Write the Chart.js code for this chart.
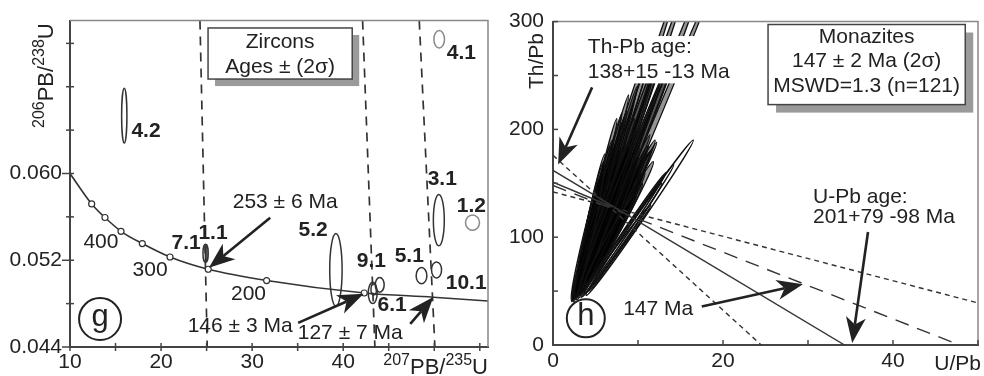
<!DOCTYPE html>
<html>
<head>
<meta charset="utf-8">
<script src="https://cdn.jsdelivr.net/npm/chart.js@4.4.0/dist/chart.umd.min.js"></script>
<style>
html, body { margin: 0; padding: 0; background: #fff; }
#wrap { position: relative; width: 984px; height: 376px; }
.panel { position: absolute; top: 0; width: 492px; height: 376px; }
</style>
</head>
<body>
<div id="wrap">
  <div class="panel" style="left:0"><canvas id="zircons"></canvas></div>
  <div class="panel" style="left:492px"><canvas id="monazites"></canvas></div>
</div>
<script>
const FONT = '"Liberation Sans", Arial, Helvetica, sans-serif';
const INK = '#222';
const TXT = 21;

// ---------- panel g : zircons ----------
const gXTicks = [10, 15, 20, 25, 30, 35, 40, 45, 50, 55];
const gXLabels = ['10', '', '20', '', '30', '', '40', '', '', ''];
const gYTicks = [0.044, 0.048, 0.052, 0.056, 0.060, 0.064, 0.068, 0.072];
const gYLabels = ['0.044', '', '0.052', '', '0.060', '', '', ''];

// concordia curve, with age ticks
const curveX = [10, 12.38, 13.84, 15.60, 17.94, 20.98, 25.18, 31.59, 42.31, 49.88, 55.9];
const curveY = [0.0600, 0.05719, 0.05594, 0.05467, 0.05354, 0.05230, 0.05117, 0.05013, 0.04898, 0.04859, 0.04824];
const curveAgeTick = [0, 1, 1, 1, 1, 1, 1, 1, 1, 0, 0];
const curveAgeText = ['400', '300', '200'];
const curveAgeX = [13.4, 18.8, 29.6];
const curveAgeY = [0.05369, 0.05111, 0.04889];

// dashed age lines (top x at upper edge, bottom x at lower edge)
const tieTopX = [24.27, 42.13, 48.35];
const tieBotX = [25.07, 43.48, 50.07];

// zircon spots: centre and 2 sigma half sizes
const zrcSpot = ['4.2', '4.1', '7.1', '1.1', '5.2', '9.1', '6.1', '6.1', '5.1', '10.1', '3.1', '1.2'];
const zrcX = [15.96, 50.54, 24.95, 24.89, 39.20, 44.01, 43.24, 43.35, 48.60, 50.25, 50.50, 54.2];
const zrcY = [0.06533, 0.07238, 0.05262, 0.05265, 0.05111, 0.04973, 0.04898, 0.0493, 0.05058, 0.05111, 0.0557, 0.05547];
const zrcErrX = [0.29, 0.585, 0.09, 0.29, 0.68, 0.49, 0.49, 0.3, 0.59, 0.55, 0.6, 0.77];
const zrcErrY = [0.00252, 0.0008, 0.0007, 0.00083, 0.00335, 0.00067, 0.00098, 0.0005, 0.00074, 0.00074, 0.00237, 0.00071];

const spotText = ['4.2', '4.1', '7.1', '1.1', '5.2', '9.1', '6.1', '5.1', '10.1', '3.1', '1.2'];
const spotX = [18.35, 52.97, 22.75, 25.7, 36.7, 43.1, 45.38, 47.25, 53.5, 50.88, 54.07];
const spotY = [0.06391, 0.07111, 0.0536, 0.05449, 0.05476, 0.05191, 0.04782, 0.05236, 0.04991, 0.05947, 0.05698];

const gNoteText = ['253 ± 6 Ma', '146 ± 3 Ma', '127 ± 7 Ma'];
const gNoteX = [33.63, 28.68, 40.77];
const gNoteY = [0.05733, 0.04596, 0.04524];
const gArrowFromX = [31.98, 35.05, 47.36];
const gArrowFromY = [0.05591, 0.04622, 0.04613];
const gArrowToX = [25.25, 42.25, 49.9];
const gArrowToY = [0.0513, 0.0489, 0.0486];

// ---------- panel h : monazites ----------
const hXTicks = [0, 10, 20, 30, 40, 50];
const hXLabels = ['0', '', '20', '', '40', ''];
const hYTicks = [0, 50, 100, 150, 200, 250, 300];
const hYLabels = ['0', '', '100', '', '200', '', '300'];

// reference lines, all start on the Th/Pb axis
const refStartY = [176, 162, 151, 148, 142];
const refEndX = [24.5, 34.3, 7, 47.5, 50];
const refEndY = [0, 0, 128, 1, 39];
const refKind = ['short', 'solid', 'solid', 'long', 'short'];

// monazite error ellipses of the main cluster: long axis (x1,y1)-(x2,y2), half width in U/Pb units
const monX1 = [2.2, 2.4, 2.6, 2.8, 3.0, 3.2, 3.0, 3.3, 3.5, 4.0, 2.3, 2.5, 2.4, 2.6, 2.7, 2.5, 3.0, 3.2, 3.4, 2.9,
  2.6, 2.8, 2.4, 3.1, 3.3, 2.7, 2.5, 2.9, 3.0, 3.5, 2.2, 2.4, 3.6, 2.6, 2.8, 3.2, 3.0, 2.6, 3.4, 2.9,
  2.3, 2.7, 3.1, 2.5, 2.9, 3.5, 3.2, 3.8, 3.4, 4.0, 3.6, 3.3, 2.9, 3.1, 2.6, 3.7];
const monY1 = [40, 42, 45, 44, 48, 46, 50, 52, 50, 55, 42, 44, 43, 46, 45, 44, 48, 50, 52, 47,
  43, 46, 42, 49, 51, 44, 45, 48, 47, 55, 41, 40, 56, 48, 42, 55, 50, 45, 52, 46,
  41, 45, 50, 47, 44, 50, 48, 55, 50, 58, 53, 49, 46, 50, 44, 56];
const monX2 = [10.6, 11.4, 12.0, 12.9, 13.6, 14.3, 14.5, 15.5, 17.2, 18.6, 8.7, 9.6, 8.1, 7.5, 6.7, 6.1, 11.4, 12.2, 11.0, 10.2,
  9.0, 7.9, 7.0, 9.5, 10.5, 8.5, 6.5, 7.5, 8.0, 9.4, 5.8, 6.3, 10.6, 5.6, 7.2, 8.6, 9.9, 8.9, 12.5, 11.8,
  5.5, 6.8, 8.3, 7.3, 9.8, 11.5, 12.0, 11.8, 10.8, 10.5, 11.2, 10.0, 9.0, 10.4, 6.0, 9.8];
const monY2 = [262, 268, 262, 270, 262, 266, 330, 330, 330, 330, 217, 210, 215, 210, 184, 177, 195, 188, 177, 185,
  190, 195, 190, 175, 170, 170, 165, 160, 180, 150, 160, 150, 160, 140, 140, 140, 240, 232, 240, 250,
  130, 150, 160, 145, 200, 180, 190, 170, 160, 150, 185, 175, 185, 200, 170, 140];
const monW = [0.35, 0.3, 0.35, 0.3, 0.3, 0.35, 0.3, 0.3, 0.35, 0.3, 0.35, 0.35, 0.3, 0.35, 0.4, 0.4, 0.35, 0.35, 0.4, 0.4,
  0.45, 0.45, 0.45, 0.5, 0.5, 0.5, 0.5, 0.5, 0.5, 0.5, 0.45, 0.5, 0.45, 0.5, 0.6, 0.55, 0.35, 0.35, 0.35, 0.3,
  0.5, 0.5, 0.5, 0.5, 0.45, 0.5, 0.45, 0.5, 0.5, 0.5, 0.45, 0.55, 0.55, 0.4, 0.5, 0.5];

// the few elongated grains lying right of the cluster
const sideX1 = [3.9, 3.5, 3.3, 4.2, 3.7];
const sideY1 = [46, 45, 44, 50, 48];
const sideX2 = [16.5, 14.2, 13.3, 12.8, 11.5];
const sideY2 = [190, 167, 160, 150, 130];
const sideW = [0.45, 0.35, 0.3, 0.3, 0.3];

const hNoteText = ['Th-Pb age:', '138+15 -13 Ma', 'U-Pb age:', '201+79 -98 Ma', '147 Ma'];
const hNoteX = [4.1, 4.1, 30.6, 30.6, 8.25];
const hNoteY = [275.8, 253.4, 137, 118.2, 33.1];
const hArrowFromX = [4.6, 37.06, 17.5];
const hArrowFromY = [239, 104.8, 35.8];
const hArrowToX = [0.6, 35.2, 29.4];
const hArrowToY = [167.5, 1.8, 56.4];
const hBoxText = ['Monazites', '147 ± 2 Ma (2σ)', 'MSWD=1.3 (n=121)'];

// ---------- helpers ----------
function txt(ctx, s, x, y, size, bold, align) {
  ctx.font = (bold ? 'bold ' : '') + size + 'px ' + FONT;
  ctx.textAlign = align || 'center';
  ctx.textBaseline = 'middle';
  ctx.fillText(s, x, y);
}

function supText(ctx, parts, x, y, big, small, rise, align) {
  let w = 0;
  parts.forEach(p => { ctx.font = (p[1] ? small : big) + 'px ' + FONT; w += ctx.measureText(p[0]).width; });
  let cx = align === 'right' ? x - w : x;
  ctx.textAlign = 'left';
  ctx.textBaseline = 'alphabetic';
  parts.forEach(p => {
    ctx.font = (p[1] ? small : big) + 'px ' + FONT;
    ctx.fillText(p[0], cx, p[1] ? y - rise : y);
    cx += ctx.measureText(p[0]).width;
  });
}

function arrow(ctx, x1, y1, x2, y2, len, half) {
  const a = Math.atan2(y2 - y1, x2 - x1);
  const c = Math.cos(a), s = Math.sin(a);
  const bx = x2 - len * c, by = y2 - len * s;
  const nx = x2 - len * 0.72 * c, ny = y2 - len * 0.72 * s;
  ctx.lineWidth = 2.6;
  ctx.beginPath(); ctx.moveTo(x1, y1); ctx.lineTo(nx, ny); ctx.stroke();
  ctx.beginPath();
  ctx.moveTo(x2, y2);
  ctx.lineTo(bx - half * s, by + half * c);
  ctx.lineTo(nx, ny);
  ctx.lineTo(bx + half * s, by - half * c);
  ctx.closePath(); ctx.fill();
}

function frame(ctx, a) {
  ctx.strokeStyle = '#888';
  ctx.lineWidth = 1.5;
  ctx.beginPath();
  ctx.moveTo(a.left, a.top); ctx.lineTo(a.right, a.top); ctx.lineTo(a.right, a.bottom);
  ctx.stroke();
}

function shadowBox(ctx, l, t, r, b, off) {
  ctx.fillStyle = '#9a9a9a';
  ctx.fillRect(l + off, t + off, r - l, b - t);
  ctx.fillStyle = '#fff';
  ctx.fillRect(l, t, r - l, b - t);
  ctx.strokeStyle = '#444';
  ctx.lineWidth = 1.5;
  ctx.strokeRect(l, t, r - l, b - t);
}

function letterCircle(ctx, x, y, r, ch) {
  ctx.fillStyle = '#fff';
  ctx.strokeStyle = INK;
  ctx.lineWidth = 2;
  ctx.beginPath(); ctx.arc(x, y, r, 0, 2 * Math.PI); ctx.fill(); ctx.stroke();
  ctx.fillStyle = INK;
  txt(ctx, ch, x, y - 2, 31, false);
}

function ellipseAlong(ctx, x1, y1, x2, y2, half) {
  const len = Math.hypot(x2 - x1, y2 - y1) / 2;
  ctx.beginPath();
  ctx.ellipse((x1 + x2) / 2, (y1 + y2) / 2, len, half, Math.atan2(y2 - y1, x2 - x1), 0, 2 * Math.PI);
}

function axisOpts(min, max, ticks, labels, size, pad) {
  return {
    type: 'linear', min: min, max: max,
    afterBuildTicks: s => { s.ticks = ticks.map(v => ({ value: v })); },
    afterFit: size,
    grid: { display: false, drawTicks: false, tickLength: 0 },
    border: { color: '#444', width: 2 },
    ticks: {
      autoSkip: false, maxRotation: 0, padding: pad, color: INK,
      font: { family: FONT, size: TXT },
      callback: (v, i) => labels[i]
    }
  };
}

// ---------- panel g ----------
const zirconDecor = {
  id: 'zirconDecor',
  afterDatasetsDraw(chart) {
    const { ctx, chartArea: a, scales: { x, y } } = chart;
    const px = v => x.getPixelForValue(v), py = v => y.getPixelForValue(v);
    const ux = px(1) - px(0), uy = py(0) - py(1);
    ctx.save();
    frame(ctx, a);
    ctx.strokeStyle = '#444';
    ctx.lineWidth = 1.5;
    gXTicks.forEach(v => { ctx.beginPath(); ctx.moveTo(px(v), a.bottom - 4); ctx.lineTo(px(v), a.bottom + 4); ctx.stroke(); });
    gYTicks.forEach((v, i) => {
      const out = gYLabels[i] ? 8 : 4;
      ctx.beginPath(); ctx.moveTo(a.left - out, py(v)); ctx.lineTo(a.left + 4, py(v)); ctx.stroke();
    });

    // error ellipses
    ctx.lineWidth = 1.5;
    zrcX.forEach((cx, i) => {
      ctx.strokeStyle = (zrcSpot[i] === '4.1' || zrcSpot[i] === '1.2') ? '#8a8a8a' : '#333';
      ctx.beginPath();
      ctx.ellipse(px(cx), py(zrcY[i]), zrcErrX[i] * ux, zrcErrY[i] * uy, 0, 0, 2 * Math.PI);
      ctx.stroke();
    });

    ctx.fillStyle = INK;
    ctx.strokeStyle = INK;
    gArrowFromX.forEach((v, i) => arrow(ctx, px(v), py(gArrowFromY[i]), px(gArrowToX[i]), py(gArrowToY[i]), 26, 10));

    curveAgeText.forEach((s, i) => txt(ctx, s, px(curveAgeX[i]), py(curveAgeY[i]), TXT, false));
    spotText.forEach((s, i) => txt(ctx, s, px(spotX[i]), py(spotY[i]), TXT, true));
    gNoteText.forEach((s, i) => txt(ctx, s, px(gNoteX[i]), py(gNoteY[i]), TXT, false));

    // legend box
    shadowBox(ctx, px(25.16), py(0.07342), px(40.99), py(0.06871), 7);
    ctx.fillStyle = INK;
    txt(ctx, 'Zircons', px(33.07), py(0.07209), TXT, false);
    txt(ctx, 'Ages ± (2σ)', px(33.07), py(0.06978), TXT, false);

    letterCircle(ctx, px(13.3), py(0.04658), 21, 'g');

    // axis titles
    ctx.fillStyle = INK;
    supText(ctx, [['207', 1], ['PB/', 0], ['235', 1], ['U', 0]], a.right, 374, 22, 16, 9, 'right');
    ctx.translate(53, 128);
    ctx.rotate(-Math.PI / 2);
    supText(ctx, [['206', 1], ['PB/', 0], ['238', 1], ['U', 0]], 0, 0, 22, 16, 9, 'left');
    ctx.restore();
  }
};

const tieSets = tieTopX.map((t, i) => ({
  data: [{ x: t, y: 0.0741 }, { x: tieBotX[i], y: 0.044 }],
  borderColor: '#333', borderWidth: 1.7, borderDash: [9, 7], pointRadius: 0
}));

new Chart(document.getElementById('zircons'), {
  type: 'line',
  data: {
    datasets: [{
      data: curveX.map((v, i) => ({ x: v, y: curveY[i] })),
      borderColor: '#333', borderWidth: 1.6,
      cubicInterpolationMode: 'monotone',
      pointRadius: curveAgeTick.map(t => t ? 3 : 0),
      pointBackgroundColor: '#fff', pointBorderColor: '#333', pointBorderWidth: 1.2
    }].concat(tieSets)
  },
  options: {
    responsive: true, maintainAspectRatio: false, animation: false,
    layout: { padding: { top: 8, right: 4, left: 0, bottom: 0 } },
    plugins: { legend: { display: false }, tooltip: { enabled: false } },
    scales: {
      x: axisOpts(10, 55.9, gXTicks, gXLabels, s => { s.height = 29; }, 3),
      y: axisOpts(0.044, 0.0741, gYTicks, gYLabels, s => { s.width = 70; }, 8)
    }
  },
  plugins: [zirconDecor]
});

// ---------- panel h ----------
const monaziteDecor = {
  id: 'monaziteDecor',
  beforeDatasetsDraw(chart) {
    const { ctx, chartArea: a, scales: { x, y } } = chart;
    const px = v => x.getPixelForValue(v), py = v => y.getPixelForValue(v);
    const ux = px(1) - px(0);
    ctx.save();
    ctx.beginPath(); ctx.rect(a.left, a.top, a.right - a.left, a.bottom - a.top); ctx.clip();
    ctx.strokeStyle = '#111';
    ctx.lineWidth = 1.3;
    ctx.fillStyle = 'rgba(0,0,0,0.42)';
    monX1.forEach((v, i) => {
      ellipseAlong(ctx, px(v), py(monY1[i]), px(monX2[i]), py(monY2[i]), monW[i] * ux);
      ctx.fill(); ctx.stroke();
    });
    ctx.lineWidth = 1.5;
    sideX1.forEach((v, i) => {
      ellipseAlong(ctx, px(v), py(sideY1[i]), px(sideX2[i]), py(sideY2[i]), sideW[i] * ux);
      ctx.stroke();
    });
    ctx.restore();
  },
  afterDatasetsDraw(chart) {
    const { ctx, chartArea: a, scales: { x, y } } = chart;
    const px = v => x.getPixelForValue(v), py = v => y.getPixelForValue(v);
    ctx.save();
    frame(ctx, a);
    ctx.strokeStyle = '#444';
    ctx.lineWidth = 1.5;
    hXTicks.forEach(v => { ctx.beginPath(); ctx.moveTo(px(v), a.bottom); ctx.lineTo(px(v), a.bottom - 5); ctx.stroke(); });
    hYTicks.forEach(v => { ctx.beginPath(); ctx.moveTo(a.left, py(v)); ctx.lineTo(a.left + 5, py(v)); ctx.stroke(); });

    // white label panel over the ellipses
    ctx.fillStyle = '#fff';
    ctx.fillRect(px(3.6), py(286.6), px(21.5) - px(3.6), py(242.7) - py(286.6));

    ctx.fillStyle = INK;
    ctx.strokeStyle = INK;
    hNoteText.forEach((s, i) => txt(ctx, s, px(hNoteX[i]), py(hNoteY[i]), TXT, false, 'left'));
    hArrowFromX.forEach((v, i) => arrow(ctx, px(v), py(hArrowFromY[i]), px(hArrowToX[i]), py(hArrowToY[i]), 26, 10));

    shadowBox(ctx, px(25.3), py(297.3), px(48.5), py(223), 8);
    ctx.fillStyle = INK;
    hBoxText.forEach((s, i) => txt(ctx, s, px(36.9), py(285.7 - i * 22.8), TXT, false));

    letterCircle(ctx, px(3.86), py(24.8), 19, 'h');

    ctx.fillStyle = INK;
    ctx.font = TXT + 'px ' + FONT;
    ctx.textAlign = 'right';
    ctx.textBaseline = 'alphabetic';
    ctx.fillText('U/Pb', a.right + 3, 370);
    ctx.translate(51, 89);
    ctx.rotate(-Math.PI / 2);
    ctx.textAlign = 'left';
    ctx.fillText('Th/Pb', 0, 0);
    ctx.restore();
  }
};

const dashFor = { short: [5, 4], long: [14, 9], solid: [] };
new Chart(document.getElementById('monazites'), {
  type: 'line',
  data: {
    datasets: refStartY.map((v, i) => ({
      data: [{ x: 0, y: v }, { x: refEndX[i], y: refEndY[i] }],
      borderColor: '#333', borderWidth: 1.4, borderDash: dashFor[refKind[i]], pointRadius: 0
    }))
  },
  options: {
    responsive: true, maintainAspectRatio: false, animation: false,
    layout: { padding: { top: 10, right: 6, left: 0, bottom: 0 } },
    plugins: { legend: { display: false }, tooltip: { enabled: false } },
    scales: {
      x: axisOpts(0, 50, hXTicks, hXLabels, s => { s.height = 31; }, 4),
      y: axisOpts(0, 300, hYTicks, hYLabels, s => { s.width = 61; }, 9)
    }
  },
  plugins: [monaziteDecor]
});
</script>
</body>
</html>
